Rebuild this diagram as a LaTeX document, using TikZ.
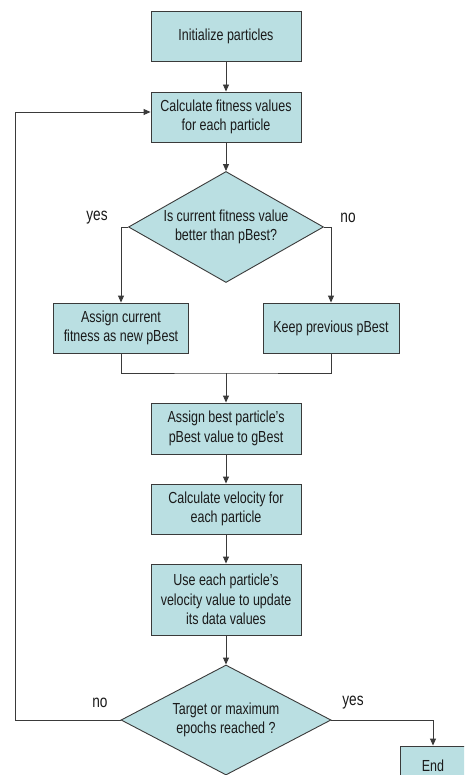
\documentclass[tikz,border=0pt]{standalone}
\usepackage{fontspec}
\setmainfont{Liberation Sans}[FakeStretch=0.78]
\usetikzlibrary{shapes.geometric,arrows.meta}
\definecolor{boxfill}{HTML}{BADFE2}
\definecolor{boxline}{HTML}{3A3A3A}
\definecolor{txt}{HTML}{1A1A1A}
\tikzset{
  stepbox/.style={draw=boxline, fill=boxfill, line width=0.9pt, minimum width=150pt, minimum height=50pt, inner sep=0pt, align=center, text=txt, font=\fontsize{16}{19.5}\selectfont},
  decbox/.style={draw=boxline, fill=boxfill, line width=0.9pt, shape=diamond, aspect=1.8, inner sep=0pt, align=center, text=txt, font=\fontsize{16}{19.5}\selectfont},
  conn/.style={draw=boxline, line width=0.9pt},
  arr/.style={conn, -{Triangle[length=7pt,width=6pt]}},
  lbl/.style={text=txt, font=\fontsize{17.5}{20}\selectfont, inner sep=0pt}
}
\begin{document}
\begin{tikzpicture}[x=1pt,y=-1pt]
\useasboundingbox (0,0) rectangle (464,775);
\clip (0,0) rectangle (464,775);
\fill[white] (0,0) rectangle (464,775);
\node[stepbox] (init) at (226,36) {Initialize particles};
\node[stepbox] (fit) at (226,117) {Calculate fitness values\\for each particle};
\node[decbox, minimum width=195pt, minimum height=111pt] (dec1) at (226,227) {Is current fitness value\\better than pBest?};
\node[stepbox, minimum width=135pt] (b3) at (121,328) {Assign current\\fitness as new pBest};
\node[stepbox, minimum width=136pt] (b4) at (331,328) {Keep previous pBest};
\coordinate (m) at (226,373);
\node[stepbox, minimum height=51pt] (b5) at (226,428.5) {Assign best particle's\\pBest value to gBest};
\node[stepbox] (b6) at (226,509) {Calculate velocity for\\each particle};
\node[stepbox, minimum height=71pt] (b7) at (226,599.5) {Use each particle's\\velocity value to update\\its data values};
\node[decbox, minimum width=210pt, minimum height=110pt] (dec2) at (226,720) {Target or maximum\\epochs reached ?};
\node[stepbox, minimum width=66pt] (endb) at (433,771) {\raisebox{11pt}{End}};
\coordinate (loop) at (15,720);
\node[lbl] (y1) at (97,218) {yes};
\node[lbl] (n1) at (348,218) {no};
\node[lbl] (n2) at (100,703) {no};
\node[lbl] (y2) at (353,703) {yes};
\draw[arr] (init) -- (fit);
\draw[arr] (fit) -- (dec1);
\draw[arr] (dec1.west) -| (b3.north);
\draw[arr] (dec1.east) -| (b4.north);
\draw[conn] (b3.south) |- (m) -| (b4.south);
\draw[arr] (m) -- (b5.north);
\draw[arr] (b5) -- (b6);
\draw[arr] (b6) -- (b7);
\draw[arr] (b7) -- (dec2);
\draw[arr] (dec2.west) -- (loop) |- ([yshift=5pt]fit.west);
\draw[arr] (dec2.east) -| (endb.north);
\end{tikzpicture}
\end{document}
